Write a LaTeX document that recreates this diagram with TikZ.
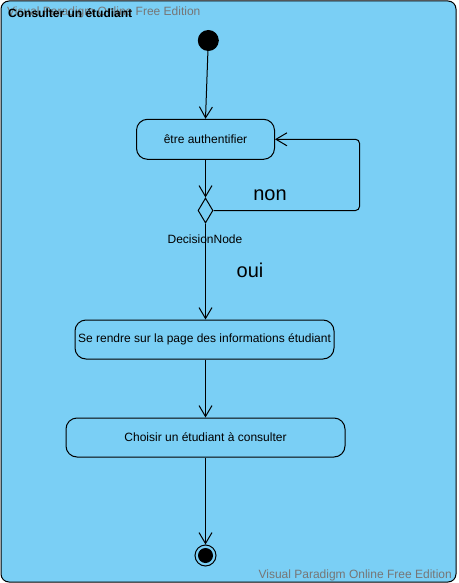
\documentclass[tikz,border=0pt]{standalone}
\usepackage{fontspec}
\setmainfont{Liberation Sans}
\usetikzlibrary{arrows.meta,shapes.geometric}
\definecolor{bg}{RGB}{122,207,245}
\definecolor{wm}{RGB}{118,118,118}
\tikzset{
  action/.style={draw, line width=1pt, fill=bg, rounded corners=11pt, inner sep=0pt, font=\fontsize{12}{14}\selectfont},
  flow/.style={draw, line width=1pt, -{Straight Barb[length=11pt,width=13pt,line width=1pt]}},
  small/.style={font=\fontsize{12}{14}\selectfont, inner sep=0pt},
  big/.style={font=\fontsize{20}{24}\selectfont, inner sep=0pt},
  watermark/.style={font=\fontsize{12}{14}\selectfont, text=wm, inner sep=0pt}
}
\begin{document}
\begin{tikzpicture}[x=1pt,y=-1pt]
\useasboundingbox (0,0) rectangle (458,583);
\draw[line width=1pt, fill=bg, rounded corners=8pt] (1,1) rectangle (456,582);
\node[watermark, anchor=base west] (wmtop) at (7,16) {Visual Paradigm Online Free Edition};
\node[small, anchor=base west, font=\fontsize{12}{14}\selectfont\bfseries] (title) at (8,17.5) {Consulter un étudiant};
\node[watermark, anchor=base east] (wmbot) at (452,578) {Visual Paradigm Online Free Edition};

\node[circle, fill=black, minimum size=21pt, inner sep=0pt] (init) at (208.3,40.5) {};
\node[action, minimum width=138pt, minimum height=40pt] (a1) at (205.5,139.3) {être authentifier};
\node[diamond, draw, line width=1pt, fill=bg, minimum width=15pt, minimum height=25pt, inner sep=0pt, aspect=0.6] (dec) at (205.5,210.5) {};
\node[small] (declabel) at (205,239) {DecisionNode};
\node[big] (non) at (270,195) {non};
\node[big] (oui) at (250,270) {oui};
\node[action, minimum width=259pt, minimum height=39pt] (a2) at (204.5,339.5) {Se rendre sur la page des informations étudiant};
\node[action, minimum width=279pt, minimum height=39pt] (a3) at (205.5,437.5) {Choisir un étudiant à consulter};
\node[circle, draw, line width=1pt, minimum size=21pt, inner sep=0pt] (fin) at (205.5,555.5) {};
\fill (fin.center) circle (7.5pt);

\coordinate (loopc) at (359.5,210.5);
\draw[flow] (init) -- (a1.north);
\draw[flow] (a1.south) -- (dec.north);
\draw[flow, rounded corners=4pt] (dec.east) -- (loopc) |- (a1.east);
\draw[flow] (dec.south) -- (dec.south |- a2.north);
\draw[flow] (a2.south -| dec.south) -- (dec.south |- a3.north);
\draw[flow] (a3.south) -- (fin.north);
\end{tikzpicture}
\end{document}
